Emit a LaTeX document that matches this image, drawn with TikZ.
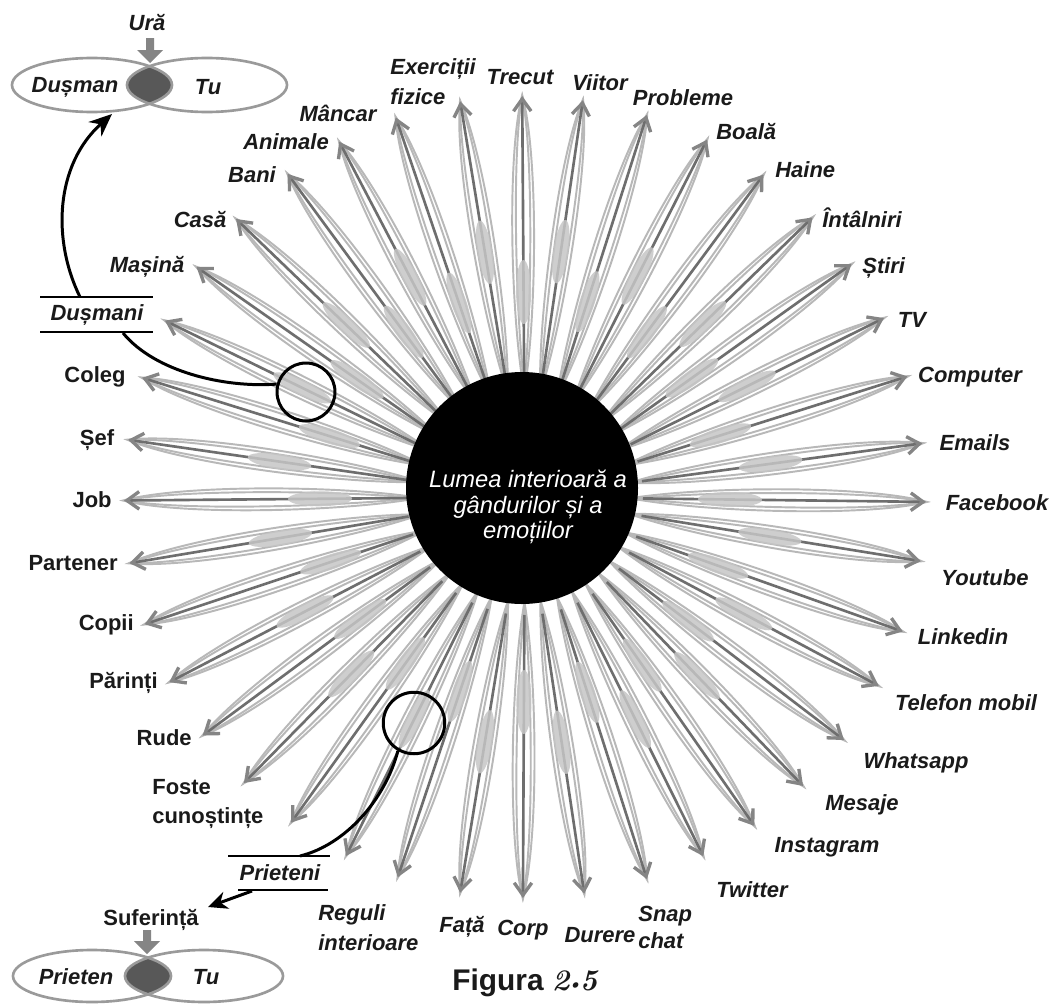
\documentclass[tikz,border=0pt]{standalone}
\usepackage{fontspec}
\setsansfont{Liberation Sans}
\usetikzlibrary{arrows.meta}
\definecolor{lensc}{HTML}{B8B8B8}
\definecolor{axisc}{HTML}{6E6E6E}
\definecolor{blobc}{HTML}{C6C6C6}
\definecolor{tipc}{HTML}{858585}
\definecolor{ringc}{HTML}{9A9A9A}
\definecolor{lensdark}{HTML}{585858}
\definecolor{txt}{HTML}{1A1A1A}
\tikzset{
  lbl/.style={font=\sffamily\bfseries\itshape\fontsize{12.5}{15}\selectfont, inner sep=0pt, text=txt},
  lblu/.style={font=\sffamily\bfseries\fontsize{12.5}{15}\selectfont, inner sep=0pt, text=txt},
  twol/.style={font=\sffamily\bfseries\itshape\fontsize{12.5}{17}\selectfont, inner sep=0pt, text=txt, align=left},
  twolu/.style={font=\sffamily\bfseries\fontsize{12.5}{16}\selectfont, inner sep=0pt, text=txt, align=left},
  lens/.style={draw=lensc, line width=1.1pt},
  axisline/.style={draw=axisc, line width=1.5pt, -{Straight Barb[length=7pt,width=10pt,line width=1.9pt,color=tipc]}},
  ring/.style={draw=ringc, line width=1.5pt},
  blk/.style={draw=black, line width=1.7pt},
  hl/.style={draw=black, line width=1.7pt, circle, inner sep=0pt},
  gbar/.style={draw=black, line width=1.3pt}
}
\begin{document}
\begin{tikzpicture}[x=0.02cm,y=-0.02cm]
\useasboundingbox (0,0) rectangle (1055,1004);
\fill[white] (0,0) rectangle (1055,1004);

% petals
\foreach \a [count=\k from 0] in {90.4,81.7,72.3,63,53.5,44.2,35.5,26.5,17.5,7.7,-0.7,-9.2,-19.6,-28.1,-37.3,-46.1,-55.1,-63.6,-72.3,-81.5,-90.3,-99.3,-108.5,-116.5,-125.7,-134.5,-143.5,-152.5,-161.5,-170.5,-179.5,171.8,162.7,153.9,145,136.1,126.3,117.6,108.8,99.3}{
  \pgfmathsetmacro\bc{mod(\k,2)==0 ? 205 : 248}
  \begin{scope}[shift={(525,497)},rotate=\a]
    \draw[lens] (105,0) .. controls (180,13) and (342,16) .. (402,0) .. controls (342,-16) and (180,-13) .. (105,0) -- cycle;
    \draw[lens] (110,0) .. controls (185,8) and (345,11) .. (400,0) .. controls (345,-11) and (185,-8) .. (110,0) -- cycle;
    \draw[axisline] (118,0) -- (401,0);
    \fill[blobc, opacity=0.85] (\bc,0) ellipse [x radius=32, y radius=7.5];
  \end{scope}
}

% central circle
\fill[black] (522,488) circle [radius=116];
\node[font=\sffamily\itshape\fontsize{13.5}{14.5}\selectfont, text=white, align=center, inner sep=0pt] (world) at (528,507) {Lumea interioară a\\gândurilor și a\\emoțiilor};

% labels
\node[twol,anchor=west] (exe) at (390,82) {Exerciții\\fizice};
\node[lbl] (tre) at (520,77) {Trecut};
\node[lbl] (vii) at (600,83) {Viitor};
\node[lbl] (pro) at (683,98) {Probleme};
\node[lbl,anchor=west] (boa) at (716,132) {Boală};
\node[lbl,anchor=west] (hai) at (775,170) {Haine};
\node[lbl,anchor=west] (int) at (822,218) {Întâlniri};
\node[lbl,anchor=west] (sti) at (862,268) {Știri};
\node[lbl] (tv) at (912,320) {TV};
\node[lbl] (com) at (970,377) {Computer};
\node[lbl] (ema) at (975,443) {Emails};
\node[lbl] (fac) at (997,503) {Facebook};
\node[lbl] (you) at (985,578) {Youtube};
\node[lbl] (lin) at (963,637) {Linkedin};
\node[lbl] (tel) at (966,703) {Telefon mobil};
\node[lbl] (wha) at (916,763) {Whatsapp};
\node[lbl] (mes) at (862,805) {Mesaje};
\node[lbl] (ins) at (827,847) {Instagram};
\node[lbl] (twi) at (752,890) {Twitter};
\node[font=\sffamily\bfseries\itshape\fontsize{12.5}{15.3}\selectfont, inner sep=0pt, text=txt, align=left, anchor=west] (sna) at (638,927) {Snap\\chat};
\node[lbl] (dur) at (600,935) {Durere};
\node[lbl] (cor) at (523,930) {Corp};
\node[lbl] (fat) at (462,927) {Față};
\node[twol,anchor=west] (reg) at (318,928) {Reguli\\interioare};
\node[lbl] (pri) at (280,873) {Prieteni};
\node[twolu,anchor=west] (fos) at (152,804) {Foste\\cunoștințe};
\node[lblu,anchor=east] (rud) at (192,738) {Rude};
\node[lblu,anchor=east] (par) at (158,683) {Părinți};
\node[lblu,anchor=east] (cop) at (134,625) {Copii};
\node[lblu,anchor=east] (pte) at (118,563) {Partener};
\node[lblu,anchor=east] (job) at (112,500) {Job};
\node[lblu] (sef) at (97,440) {Șef};
\node[lblu] (col) at (95,377) {Coleg};
\node[lbl] (dus) at (97,315) {Dușmani};
\node[lbl] (mas) at (147,267) {Mașină};
\node[lbl] (cas) at (200,220) {Casă};
\node[lbl] (ban) at (252,175) {Bani};
\node[lbl] (ani) at (286,142) {Animale};
\node[lbl] (man) at (338,113) {Mâncar};

% Dusmani / Prieteni bars
\draw[gbar] (40,297) -- (153,297);
\draw[gbar] (40,332) -- (153,332);
\draw[gbar] (228,856) -- (330,856);
\draw[gbar] (238,890) -- (328,890);

% highlight circles
\node[hl, minimum size=33pt] (c1) at (306,392) {};
\node[hl, minimum size=35pt] (c2) at (414,723) {};

% top Venn
\begin{scope}
  \clip (92,85) ellipse [x radius=80, y radius=27];
  \fill[lensdark] (207,85) ellipse [x radius=80, y radius=27];
\end{scope}
\draw[ring] (92,85) ellipse [x radius=80, y radius=27];
\draw[ring] (207,85) ellipse [x radius=80, y radius=27];
\node[lbl] (dusm) at (75,87) {Dușman};
\node[lbl] (tu1) at (208,87) {Tu};
\node[lbl] (ura) at (147,23) {Ură};
\fill[tipc] (146,38) -- (154,38) -- (154,50) -- (163,50) -- (150,63) -- (137,50) -- (146,50) -- cycle;

% bottom Venn
\begin{scope}
  \clip (92,976) ellipse [x radius=79, y radius=26];
  \fill[lensdark] (204,976) ellipse [x radius=79, y radius=26];
\end{scope}
\draw[ring] (92,976) ellipse [x radius=79, y radius=26];
\draw[ring] (204,976) ellipse [x radius=79, y radius=26];
\node[lbl] (prt) at (76,977) {Prieten};
\node[lbl] (tu2) at (206,977) {Tu};
\node[lblu] (suf) at (151,920) {Suferință};
\fill[tipc] (143,930) -- (151,930) -- (151,941) -- (160,941) -- (147,954) -- (134,941) -- (143,941) -- cycle;

% connectors
\coordinate (d1) at (123,333);
\coordinate (d2) at (80,297);
\coordinate (ent) at (112,114);
\draw[blk] (c1.165) .. controls (225,388) and (155,372) .. (d1);
\draw[blk,-{Stealth[length=13pt,width=11pt]}] (d2) .. controls (52,240) and (55,165) .. (ent);
\coordinate (p1) at (300,856);
\draw[blk] (c2.240) .. controls (385,800) and (345,845) .. (p1);
\coordinate (p2) at (252,891);
\coordinate (sa) at (208,907);
\draw[blk,-{Stealth[length=11pt,width=10pt]}] (p2) -- (sa);

% caption
\node[anchor=west, inner sep=0pt, text=txt] (fig) at (452,983) {\sffamily\bfseries\fontsize{17}{20}\selectfont Figura {\rmfamily\bfseries\itshape 2\kern-1.5pt\raisebox{0.5pt}{\fontsize{10}{10}\selectfont\textbullet}\kern-1.5pt5}};
\end{tikzpicture}
\end{document}
